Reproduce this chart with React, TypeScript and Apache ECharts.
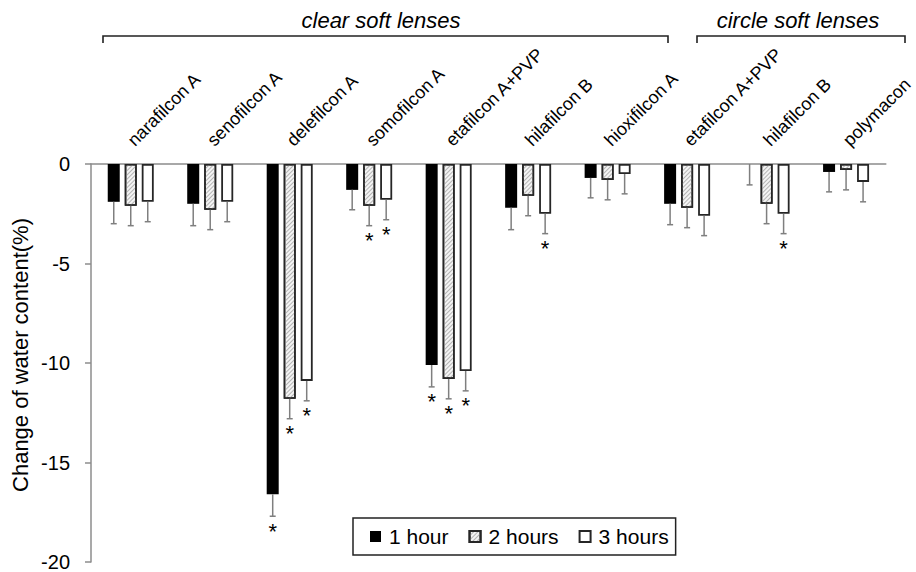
import React, { useEffect, useRef } from "react";
import * as echarts from "echarts";

const categories = [
  "narafilcon A",
  "senofilcon A",
  "delefilcon A",
  "somofilcon A",
  "etafilcon A+PVP",
  "hilafilcon B",
  "hioxifilcon A",
  "etafilcon A+PVP",
  "hilafilcon B",
  "polymacon",
];

const seriesNames = ["1 hour", "2 hours", "3 hours"];

const hour1 = [-1.9, -2.0, -16.6, -1.3, -10.1, -2.2, -0.7, -2.0, 0, -0.4];
const hour2 = [-2.1, -2.3, -11.8, -2.1, -10.8, -1.6, -0.8, -2.2, -2.0, -0.3];
const hour3 = [-1.9, -1.9, -10.9, -1.8, -10.4, -2.5, -0.5, -2.6, -2.5, -0.9];

const err1 = [1.1, 1.1, 1.1, 1.0, 1.1, 1.1, 1.0, 1.05, 1.05, 1.0];
const err2 = [1.0, 1.0, 1.0, 1.0, 1.0, 1.0, 1.0, 1.0, 1.0, 1.0];
const err3 = [1.0, 1.0, 1.0, 1.0, 1.0, 1.0, 1.0, 1.0, 1.0, 1.0];

const sig1 = [0, 0, 1, 0, 1, 0, 0, 0, 0, 0];
const sig2 = [0, 0, 1, 1, 1, 0, 0, 0, 0, 0];
const sig3 = [0, 0, 1, 1, 1, 1, 0, 0, 1, 0];

const yTicks = { min: -20, max: 0, interval: 5 };
const groupTitles = ["clear soft lenses", "circle soft lenses"];
const yTitle = "Change of water content(%)";

const FONT = "'Liberation Sans', Arial, Helvetica, sans-serif";
const BAR_W = 12;
const BAR_STEP = 17;

export default function App() {
  const ref = useRef<HTMLDivElement>(null);

  useEffect(() => {
    if (!ref.current) return;
    const chart = echarts.init(ref.current, null, { renderer: "svg" });

    const values = [hour1, hour2, hour3];
    const errs = [err1, err2, err3];
    const sigs = [sig1, sig2, sig3];
    const errData: number[][] = [];
    values.forEach((arr, si) => {
      arr.forEach((v, ci) => {
        errData.push([ci, v, errs[si][ci], si, sigs[si][ci]]);
      });
    });

    const hatchDecal = {
      symbol: "rect",
      symbolSize: 1,
      dashArrayX: [1, 0],
      dashArrayY: [1, 2],
      rotation: -Math.PI / 4,
      color: "#b4b4b4",
      backgroundColor: "#f4f4f4",
    };

    const barStyles = [
      { color: "#000000", borderColor: "#000000", borderWidth: 0 },
      { color: "#f4f4f4", borderColor: "#262626", borderWidth: 1.6, decal: hatchDecal },
      { color: "#ffffff", borderColor: "#262626", borderWidth: 1.8 },
    ];

    const option: any = {
      animation: false,
      backgroundColor: "#ffffff",
      textStyle: { fontFamily: FONT },
      grid: { left: 91, right: 28, top: 164, bottom: 9, containLabel: false },
      legend: {
        data: seriesNames,
        left: 353,
        top: 518,
        orient: "horizontal",
        icon: "rect",
        itemWidth: 11,
        itemHeight: 11,
        itemGap: 20,
        padding: [8, 7, 8, 17],
        borderColor: "#222",
        borderWidth: 1.5,
        textStyle: { fontSize: 21, color: "#000", fontFamily: FONT, padding: [0, 0, 0, 3] },
      },
      xAxis: {
        type: "category",
        position: "top",
        data: categories,
        axisLine: { show: true, lineStyle: { color: "#8c8c8c", width: 1.5 } },
        axisTick: { show: false },
        axisLabel: {
          interval: 0,
          rotate: 45,
          margin: 21,
          fontSize: 18,
          color: "#000",
          fontFamily: FONT,
        },
        splitLine: { show: false },
      },
      yAxis: {
        type: "value",
        min: yTicks.min,
        max: yTicks.max,
        interval: yTicks.interval,
        axisLine: { show: true, lineStyle: { color: "#8c8c8c", width: 1.5 } },
        axisTick: { show: true, inside: false, length: 6, lineStyle: { color: "#8c8c8c", width: 1.5 } },
        axisLabel: { fontSize: 20, color: "#000", margin: 21, fontFamily: FONT },
        splitLine: { show: false },
      },
      series: [
        ...values.map((arr, si) => ({
          name: seriesNames[si],
          type: "bar",
          data: arr,
          barWidth: BAR_W,
          barGap: ((BAR_STEP - BAR_W) / BAR_W) * 100 + "%",
          itemStyle: barStyles[si],
          z: 2,
        })),
        {
          name: "errors",
          type: "custom",
          data: errData,
          encode: { x: 0, y: 1 },
          z: 3,
          clip: false,
          renderItem: (params: any, api: any) => {
            const ci = api.value(0);
            const v = api.value(1);
            const e = api.value(2);
            const si = api.value(3);
            const sig = api.value(4);
            const p0 = api.coord([ci, v]);
            const p1 = api.coord([ci, v - e]);
            const x = p0[0] + (si - 1) * BAR_STEP;
            const children: any[] = [
              {
                type: "line",
                shape: { x1: x, y1: p0[1], x2: x, y2: p1[1] },
                style: { stroke: "#7f7f7f", lineWidth: 1.5 },
              },
              {
                type: "line",
                shape: { x1: x - 3, y1: p1[1], x2: x + 3, y2: p1[1] },
                style: { stroke: "#7f7f7f", lineWidth: 1.5 },
              },
            ];
            if (sig) {
              children.push({
                type: "text",
                x: x,
                y: p1[1] + 15,
                style: {
                  text: "*",
                  fontSize: 22,
                  fontFamily: FONT,
                  fill: "#000",
                  textAlign: "center",
                  textVerticalAlign: "middle",
                },
              });
            }
            return { type: "group", children };
          },
        },
      ],
      graphic: [
        {
          type: "text",
          x: 20,
          y: 355,
          rotation: Math.PI / 2,
          style: {
            text: yTitle,
            fontSize: 22,
            fontFamily: FONT,
            fill: "#000",
            textAlign: "center",
            textVerticalAlign: "middle",
          },
        },
        {
          type: "polyline",
          shape: { points: [[103, 43], [103, 36], [668, 36], [668, 43]] },
          style: { stroke: "#222", lineWidth: 1.6, fill: null },
        },
        {
          type: "polyline",
          shape: { points: [[697, 43], [697, 36], [905, 36], [905, 43]] },
          style: { stroke: "#222", lineWidth: 1.6, fill: null },
        },
        {
          type: "text",
          x: 381,
          y: 20,
          style: {
            text: groupTitles[0],
            fontSize: 22,
            fontStyle: "italic",
            fontFamily: FONT,
            fill: "#000",
            textAlign: "center",
            textVerticalAlign: "middle",
          },
        },
        {
          type: "text",
          x: 798,
          y: 20,
          style: {
            text: groupTitles[1],
            fontSize: 22,
            fontStyle: "italic",
            fontFamily: FONT,
            fill: "#000",
            textAlign: "center",
            textVerticalAlign: "middle",
          },
        },
      ],
    };

    chart.setOption(option);
    return () => chart.dispose();
  }, []);

  return (
    <div
      ref={ref}
      style={{ position: "fixed", left: 0, top: 0, width: 916, height: 572, background: "#fff" }}
    />
  );
}
